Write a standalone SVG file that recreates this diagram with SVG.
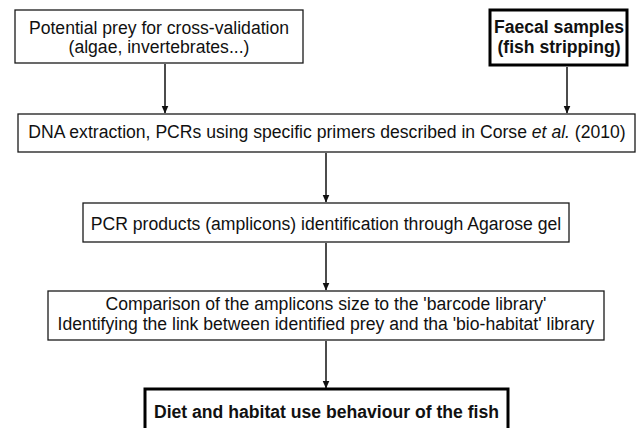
<svg xmlns="http://www.w3.org/2000/svg" width="637" height="428" viewBox="0 0 637 428">
<defs>
<style>
.box{fill:#fff;stroke:#1a1a1a;stroke-width:1.3}
.bold-box{fill:#fff;stroke:#000;stroke-width:3}
.t{font-family:"Liberation Sans",Arial,sans-serif;font-size:17.6px;fill:#111;text-anchor:middle}
.b{font-weight:bold}
.conn{stroke:#111;stroke-width:1.5;fill:none;marker-end:url(#ah)}
</style>
<marker id="ah" viewBox="0 0 8 12" refX="7.5" refY="6" markerWidth="8" markerHeight="12" markerUnits="userSpaceOnUse" orient="auto">
<path d="M0,2.5 L8,6 L0,9.5 Z" fill="#111"/>
</marker>
</defs>
<rect width="637" height="428" fill="#fff"/>
<g id="connectors">
<line class="conn" x1="165" y1="64" x2="165" y2="113"/>
<line class="conn" x1="567" y1="67" x2="567" y2="113"/>
<line class="conn" x1="326" y1="153" x2="326" y2="202"/>
<line class="conn" x1="326" y1="243" x2="326" y2="290"/>
<line class="conn" x1="326" y1="341" x2="326" y2="388"/>
</g>
<g id="prey">
<rect class="box" x="15" y="10" width="288" height="53"/>
<text class="t" x="159" y="34">Potential prey for cross-validation</text>
<text class="t" x="159" y="53">(algae, invertebrates...)</text>
</g>
<g id="faecal">
<rect class="bold-box" x="490" y="10" width="137" height="55"/>
<text class="t b" x="559" y="33">Faecal samples</text>
<text class="t b" x="559" y="53">(fish stripping)</text>
</g>
<g id="dna">
<rect class="box" x="18" y="114" width="617" height="38"/>
<text class="t" x="327" y="138">DNA extraction, PCRs using specific primers described in Corse <tspan font-style="italic">et al.</tspan> (2010)</text>
</g>
<g id="pcr">
<rect class="box" x="83" y="203" width="486" height="39"/>
<text class="t" x="326" y="230">PCR products (amplicons) identification through Agarose gel</text>
</g>
<g id="comparison">
<rect class="box" x="48" y="291" width="556" height="49"/>
<text class="t" x="326" y="310">Comparison of the amplicons size to the 'barcode library'</text>
<text class="t" x="326" y="330">Identifying the link between identified prey and tha 'bio-habitat' library</text>
</g>
<g id="diet">
<rect class="bold-box" x="145" y="389" width="363" height="44"/>
<text class="t b" x="326.5" y="418">Diet and habitat use behaviour of the fish</text>
</g>
</svg>
